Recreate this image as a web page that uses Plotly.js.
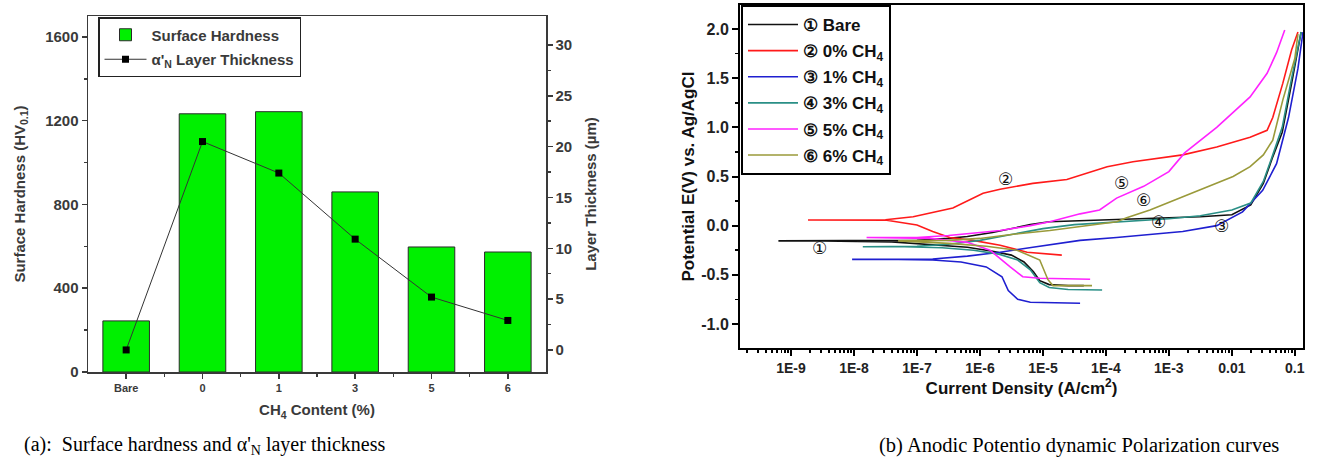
<!DOCTYPE html>
<html>
<head>
<meta charset="utf-8">
<script src="https://cdn.plot.ly/plotly-3.0.1.min.js"></script>
<style>html,body{margin:0;padding:0;background:#fff;}#chart{width:1317px;height:468px;}</style>
</head>
<body>
<div id="chart"></div>
<script>
// ---------- Panel (a) data ----------
const categories = ['Bare', '0', '1', '3', '5', '6'];
const hardness = [244, 1233, 1243, 860, 597, 573];          // HV0.1
const thickness = [0, 20.5, 17.4, 10.9, 5.2, 2.9];           // µm

// ---------- Panel (b) data (log10 of current density, potential V) ----------
const bareLogI = [-4.35, -4.6, -4.9, -5.05, -5.15, -5.3, -5.5, -5.8, -6.2, -6.8, -7.4, -8.5, -9.2,
  -8.0, -7.0, -6.5, -6.2, -5.8, -5.5, -5.2, -4.9, -4.5, -4.0, -3.5, -3.0, -2.5, -2.0, -1.7, -1.5, -1.35, -1.2, -1.05, -0.9];
const bareE = [-0.61, -0.61, -0.60, -0.56, -0.47, -0.37, -0.30, -0.26, -0.22, -0.19, -0.165, -0.155, -0.155,
  -0.155, -0.15, -0.13, -0.11, -0.07, -0.03, 0.01, 0.04, 0.05, 0.06, 0.07, 0.08, 0.09, 0.11, 0.21, 0.43, 0.70, 0.95, 1.45, 1.97];

const ch0LogI = [-4.70, -5.25, -5.68, -6.11, -6.48, -6.75, -7.0, -7.48, -8.73,
  -7.5, -7.06, -6.43, -5.95, -5.68, -5.16, -4.62, -3.98, -3.57, -2.78, -2.24, -1.71, -1.44, -1.35, -1.19, -1.05, -0.95];
const ch0E = [-0.30, -0.27, -0.20, -0.15, -0.12, -0.06, 0.006, 0.055, 0.057,
  0.06, 0.09, 0.18, 0.33, 0.37, 0.43, 0.47, 0.60, 0.65, 0.72, 0.80, 0.90, 0.97, 1.10, 1.45, 1.79, 1.97];

const ch1LogI = [-4.41, -4.9, -5.2, -5.4, -5.55, -5.65, -5.9, -6.3, -6.75, -7.3, -8.03,
  -7.2, -6.75, -6.2, -5.68, -5.16, -4.41, -3.83, -2.78, -2.24, -1.83, -1.51, -1.29, -1.1, -0.95, -0.87];
const ch1E = [-0.79, -0.785, -0.78, -0.75, -0.66, -0.52, -0.42, -0.37, -0.35, -0.343, -0.343,
  -0.343, -0.34, -0.31, -0.27, -0.22, -0.15, -0.12, -0.06, 0.0, 0.14, 0.36, 0.63, 1.1, 1.6, 1.97];

const ch3LogI = [-4.06, -4.6, -4.9, -5.05, -5.2, -5.4, -5.7, -6.1, -6.6, -7.2, -7.86,
  -7.0, -6.5, -6.0, -5.5, -5.0, -4.5, -4.0, -3.5, -3.0, -2.5, -2.0, -1.7, -1.5, -1.35, -1.2, -1.05, -0.9];
const ch3E = [-0.655, -0.65, -0.63, -0.58, -0.45, -0.35, -0.29, -0.25, -0.225, -0.215, -0.215,
  -0.21, -0.19, -0.15, -0.09, -0.03, 0.01, 0.03, 0.05, 0.07, 0.10, 0.16, 0.23, 0.45, 0.72, 1.0, 1.5, 1.97];

const ch5LogI = [-4.25, -5.05, -5.32, -5.52, -5.84, -6.2, -6.8, -7.8,
  -7.0, -6.5, -6.0, -5.68, -5.2, -4.89, -4.41, -4.1, -3.83, -3.4, -3.0, -2.75, -2.24, -1.71, -1.44, -1.29, -1.16];
const ch5E = [-0.545, -0.535, -0.52, -0.42, -0.25, -0.17, -0.13, -0.12,
  -0.12, -0.10, -0.07, -0.05, 0.0, 0.04, 0.12, 0.16, 0.28, 0.40, 0.55, 0.74, 1.0, 1.31, 1.55, 1.76, 1.99];

const ch6LogI = [-4.22, -4.7, -4.84, -4.92, -5.05, -5.41, -5.9, -6.5, -7.3,
  -6.5, -6.0, -5.5, -4.89, -3.83, -3.67, -3.3, -2.51, -1.98, -1.71, -1.5, -1.35, -1.19, -1.0, -0.95];
const ch6E = [-0.61, -0.615, -0.61, -0.55, -0.35, -0.25, -0.21, -0.18, -0.155,
  -0.15, -0.13, -0.09, -0.05, 0.04, 0.08, 0.16, 0.36, 0.50, 0.60, 0.72, 0.87, 1.28, 1.7, 1.95];

const seriesNames = ['\u2460 Bare', '\u2461 0% CH<sub>4</sub>', '\u2462 1% CH<sub>4</sub>',
  '\u2463 3% CH<sub>4</sub>', '\u2464 5% CH<sub>4</sub>', '\u2465 6% CH<sub>4</sub>'];
const seriesColors = ['#111111', '#ff1a1a', '#1f1fd0', '#2a8f86', '#ff22ff', '#9a9a3a'];

// curve labels (circled numbers) positions: log10 current, potential
const labelText = ['\u2460', '\u2461', '\u2462', '\u2463', '\u2464', '\u2465'];
const labelLogI = [-8.54, -5.60, -2.16, -3.16, -3.75, -3.41];
const labelE = [-0.23, 0.47, 0.0, 0.04, 0.43, 0.26];

// tick labels
const hardTicks = [0, 400, 800, 1200, 1600];
const thickTicks = [0, 5, 10, 15, 20, 25, 30];
const eTicks = [-1.0, -0.5, 0.0, 0.5, 1.0, 1.5, 2.0];
const eTickText = ['-1.0', '-0.5', '0.0', '0.5', '1.0', '1.5', '2.0'];
const iTicks = [1e-9, 1e-8, 1e-7, 1e-6, 1e-5, 1e-4, 1e-3, 1e-2, 1e-1];
const iTickText = ['1E-9', '1E-8', '1E-7', '1E-6', '1E-5', '1E-4', '1E-3', '0.01', '0.1'];

// ---------- build ----------
const SANS = 'Liberation Sans, Arial, sans-serif';
const gA = '#3a3a3a';
const pow = a => a.map(v => Math.pow(10, v));

const curves = [[bareLogI, bareE], [ch0LogI, ch0E], [ch1LogI, ch1E], [ch3LogI, ch3E], [ch5LogI, ch5E], [ch6LogI, ch6E]];

const traces = [
  {
    type: 'bar', x: categories.map((c, i) => i), y: hardness, name: 'Surface Hardness',
    xaxis: 'x', yaxis: 'y', width: 0.61,
    marker: {color: '#00f000', line: {color: '#2a2a2a', width: 1}},
    legend: 'legend', legendgroup: 'a1'
  },
  {
    type: 'scatter', mode: 'lines+markers', x: categories.map((c, i) => i), y: thickness,
    name: "\u03b1'<sub>N</sub> Layer Thickness", xaxis: 'x', yaxis: 'y2',
    line: {color: '#333', width: 1}, marker: {symbol: 'square', size: 7, color: '#000'},
    legend: 'legend', legendgroup: 'a2'
  }
];
curves.forEach((c, k) => {
  traces.push({
    type: 'scatter', mode: 'lines', x: pow(c[0]), y: c[1], name: seriesNames[k],
    xaxis: 'x2', yaxis: 'y3', line: {color: seriesColors[k], width: 1.6},
    legend: 'legend2', legendgroup: 'b' + k
  });
});

const annotations = labelText.map((t, k) => ({
  xref: 'x2', yref: 'y3', x: labelLogI[k], y: labelE[k], text: t, showarrow: false,
  font: {family: 'DejaVu Sans, sans-serif', size: 17, color: '#111'}
}));
annotations.push({
  xref: 'paper', yref: 'paper', x: 22 / 1317, y: 1 - 445 / 468, xanchor: 'left', yanchor: 'middle',
  text: "(a):  Surface hardness and \u03b1'<sub>N</sub> layer thickness", showarrow: false,
  font: {family: 'Liberation Serif, Times New Roman, serif', size: 20, color: '#000'}
});
annotations.push({
  xref: 'paper', yref: 'paper', x: 877 / 1317, y: 1 - 445 / 468, xanchor: 'left', yanchor: 'middle',
  text: '(b) Anodic Potentio dynamic Polarization curves', showarrow: false,
  font: {family: 'Liberation Serif, Times New Roman, serif', size: 20.5, color: '#000'}
});

const minorIVals = [];
for (let e = -10; e <= -1; e++) for (let m = 2; m <= 9; m++) minorIVals.push(m * Math.pow(10, e));

const layout = {
  width: 1317, height: 468, margin: {l: 0, r: 0, t: 0, b: 0},
  paper_bgcolor: '#fff', plot_bgcolor: '#fff', showlegend: true, bargap: 0,
  xaxis: {
    domain: [88 / 1317, 546 / 1317], anchor: 'y', range: [-0.5, 5.5],
    tickmode: 'array', tickvals: categories.map((c, i) => i), ticktext: categories,
    ticks: 'outside', ticklen: 5, tickwidth: 1.5, tickcolor: gA,
    minor: {tickmode: 'array', tickvals: [0.5, 1.5, 2.5, 3.5, 4.5], ticks: 'outside', ticklen: 3, tickwidth: 1.5, tickcolor: gA},
    showline: true, linecolor: gA, linewidth: 1.5, mirror: true, showgrid: false, zeroline: false,
    tickfont: {family: SANS, size: 11, color: gA, weight: 'bold'}, automargin: false,
    title: {text: 'CH<sub>4</sub> Content (%)', standoff: 12, font: {family: SANS, size: 15, color: gA, weight: 'bold'}}
  },
  yaxis: {
    domain: [1 - 372 / 468, 1 - 16 / 468], anchor: 'x', range: [0, 1700],
    tickmode: 'array', tickvals: hardTicks, ticks: 'outside', ticklen: 5, tickwidth: 1.5, tickcolor: gA,
    minor: {tickmode: 'array', tickvals: [200, 600, 1000, 1400], ticks: 'outside', ticklen: 3, tickwidth: 1.5, tickcolor: gA},
    showline: true, linecolor: gA, linewidth: 1.5, showgrid: false, zeroline: false,
    tickfont: {family: SANS, size: 15, color: gA, weight: 'bold'}, automargin: false,
    title: {text: 'Surface Hardness (HV<sub>0.1</sub>)', standoff: 16, font: {family: SANS, size: 15, color: gA, weight: 'bold'}}
  },
  yaxis2: {
    overlaying: 'y', side: 'right', anchor: 'x', range: [-2.17, 32.85],
    tickmode: 'array', tickvals: thickTicks, ticks: 'outside', ticklen: 5, tickwidth: 1.5, tickcolor: gA,
    minor: {tickmode: 'array', tickvals: [2.5, 7.5, 12.5, 17.5, 22.5, 27.5], ticks: 'outside', ticklen: 3, tickwidth: 1.5, tickcolor: gA},
    showline: true, linecolor: gA, linewidth: 1.5, showgrid: false, zeroline: false,
    tickfont: {family: SANS, size: 15, color: gA, weight: 'bold'}, automargin: false,
    title: {text: 'Layer Thickness (\u00b5m)', standoff: 14, font: {family: SANS, size: 15, color: gA, weight: 'bold'}}
  },
  xaxis2: {
    type: 'log', domain: [740 / 1317, 1303 / 1317], anchor: 'y3', range: [-9.81, -0.87],
    tickmode: 'array', tickvals: iTicks, ticktext: iTickText,
    ticks: 'outside', ticklen: 6, tickwidth: 2, tickcolor: '#000',
    minor: {tickmode: 'array', tickvals: minorIVals, ticks: 'outside', ticklen: 3, tickwidth: 1.5, tickcolor: '#000'},
    showline: true, linecolor: '#000', linewidth: 2, mirror: true, showgrid: false, zeroline: false,
    tickfont: {family: SANS, size: 14, color: '#222', weight: 'bold'}, automargin: false,
    title: {text: 'Current Density (A/cm<sup>2</sup>)', standoff: 0, font: {family: SANS, size: 17, color: '#111', weight: 'bold'}}
  },
  yaxis3: {
    domain: [1 - 348 / 468, 1 - 5 / 468], anchor: 'x2', range: [-1.245, 2.245],
    tickmode: 'array', tickvals: eTicks, ticktext: eTickText,
    ticks: 'outside', ticklen: 6, tickwidth: 2, tickcolor: '#000',
    minor: {tickmode: 'array', tickvals: [-0.75, -0.25, 0.25, 0.75, 1.25, 1.75], ticks: 'outside', ticklen: 3, tickwidth: 1.5, tickcolor: '#000'},
    showline: true, linecolor: '#000', linewidth: 2, mirror: true, showgrid: false, zeroline: false,
    tickfont: {family: SANS, size: 16, color: '#222', weight: 'bold'}, automargin: false,
    title: {text: 'Potential E(V) vs. Ag/AgCl', standoff: 2, font: {family: SANS, size: 17, color: '#111', weight: 'bold'}}
  },
  legend: {
    x: 98 / 1317, y: 1 - 17 / 468, xanchor: 'left', yanchor: 'top', itemwidth: 42,
    bgcolor: '#fff', bordercolor: '#222', borderwidth: 1.5, tracegroupgap: 2,
    font: {family: SANS, size: 15, color: gA, weight: 'bold'}
  },
  legend2: {
    x: 741 / 1317, y: 1 - 5 / 468, xanchor: 'left', yanchor: 'top', itemwidth: 50,
    bgcolor: '#fff', bordercolor: '#000', borderwidth: 2, tracegroupgap: 1,
    font: {family: SANS, size: 17, color: '#111', weight: 'bold'}
  },
  annotations: annotations
};

Plotly.newPlot('chart', traces, layout, {displayModeBar: false, staticPlot: true});
</script>
</body>
</html>
